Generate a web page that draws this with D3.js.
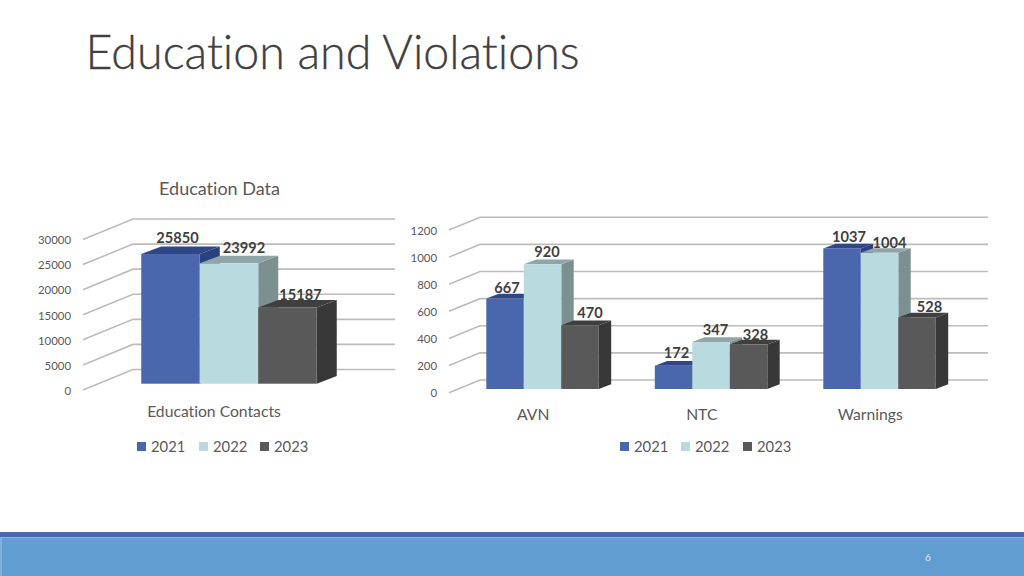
<!DOCTYPE html>
<html><head><meta charset="utf-8">
<script src="https://cdn.jsdelivr.net/npm/d3@7/dist/d3.min.js"></script>
<style>html,body{margin:0;padding:0;background:#fff;overflow:hidden}svg{display:block}text{font-family:Lato,"Open Sans",sans-serif;font-variant-ligatures:none}</style>
</head><body><svg id="c" width="1024" height="576"></svg>
<script>
const years = ["2021","2022","2023"];
const leftCategories = ["Education Contacts"];
const left2021 = [25850];
const left2022 = [23992];
const left2023 = [15187];
const leftTicks = [0,5000,10000,15000,20000,25000,30000];
const rightCategories = ["AVN","NTC","Warnings"];
const right2021 = [667,172,1037];
const right2022 = [920,347,1004];
const right2023 = [470,328,528];
const rightTicks = [0,200,400,600,800,1000,1200];

const colors = {
  front:["#4a66ac","#b9dade","#595959"],
  top:["#2f4785","#8fa5a7","#3f3f3f"],
  side:["#2a4180","#7c8f91","#383838"]
};
const svg = d3.select("#c");

function chart(o){
  const y = d3.scaleLinear().domain(o.domain).range([o.y0,o.y1]);
  const cat = d3.scaleBand().domain(o.cats).range([o.x0,o.x1]);
  const g = svg.append("g");
  // walls
  o.ticks.forEach(t=>{
    const yy=y(t);
    g.append("path").attr("d",`M${o.x0},${yy}L${o.x0+o.dx},${yy+o.dy}L${o.xr},${yy+o.dy}`)
      .attr("fill","none").attr("stroke","#bcbcbc").attr("stroke-width",1.6);
    g.append("text").attr("x",o.tickX).attr("y",yy+0.8).attr("dy","0.35em").attr("text-anchor","end")
      .attr("font-size",11.4).attr("fill","#595959").text(t);
  });
  const bars=[];
  o.cats.forEach((c,i)=>o.series.forEach((s,k)=>{
    const xs=cat(c)+cat.bandwidth()/2+o.dx*0.3+(k-1.5)*o.barW;
    bars.push({v:s[i],k,x:xs,i});
  }));
  // value labels sit behind the bars
  bars.forEach((b,n)=>{
    const nudge=o.nudges[n];
    g.append("text").attr("x",b.x+o.barW/2+nudge[0]).attr("y",y(b.v)+o.baseDy+nudge[1]).attr("dy","0.35em")
      .attr("text-anchor","middle").attr("font-size",14.6).attr("font-weight",700).attr("fill","#404040").text(b.v);
  });
  const ddx=o.dx*0.4, ddy=o.dy*0.37;
  bars.forEach(b=>{
    const t=y(b.v)+o.baseDy, base=y(0)+o.baseDy, l=b.x, r=b.x+o.barW;
    g.append("path").attr("fill",colors.side[b.k]).attr("d",`M${r},${t}L${r+ddx},${t+ddy}L${r+ddx},${base+ddy}L${r},${base}Z`);
    g.append("path").attr("fill",colors.top[b.k]).attr("d",`M${l},${t}L${l+ddx},${t+ddy}L${r+ddx},${t+ddy}L${r},${t}Z`);
    g.append("rect").attr("x",l).attr("y",t).attr("width",o.barW).attr("height",base-t).attr("fill",colors.front[b.k]);
  });
  o.cats.forEach(c=>{
    g.append("text").attr("x",cat(c)+cat.bandwidth()/2).attr("y",o.catY).attr("dy","0.35em").attr("text-anchor","middle")
      .attr("font-size",15.7).attr("fill","#595959").text(c);
  });
  years.forEach((yr,k)=>{
    const x=o.legendX[k];
    g.append("rect").attr("x",x).attr("y",442).attr("width",9).attr("height",9).attr("fill",colors.front[k]);
    g.append("text").attr("x",x+14).attr("y",447).attr("dy","0.35em").attr("font-size",14.8).attr("fill","#595959").text(yr);
  });
}

svg.append("text").attr("x",85.5).attr("y",69).attr("font-size",46.6).attr("font-weight",300).attr("fill","#404040").attr("stroke","#404040").attr("stroke-width",0.3).text("Education and Violations");
svg.append("text").attr("x",219.5).attr("y",188.5).attr("dy","0.35em").attr("text-anchor","middle").attr("font-size",18).attr("fill","#595959").text("Education Data");

chart({cats:leftCategories,series:[left2021,left2022,left2023],ticks:leftTicks,domain:[0,30000],
  y0:390,y1:239.5,x0:83,x1:345,dx:50,dy:-20.5,xr:395,tickX:71,barW:58.5,baseDy:-6.3,catY:411.5,
  legendX:[137,199,260],
  nudges:[[7,-16],[15,-15],[13,-13]]});
chart({cats:rightCategories,series:[right2021,right2022,right2023],ticks:rightTicks,domain:[0,1200],
  y0:392.7,y1:230,x0:449,x1:954.5,dx:31,dy:-12.7,xr:988,tickX:437,barW:37.5,baseDy:-3.7,catY:414.5,
  legendX:[620,681,743],
  nudges:[[2,-10.5],[4.5,-12],[10,-12],[3,-13],[4.5,-12.5],[7,-10],[7,-12],[10,-10],[12.5,-11]]});

// footer
svg.append("rect").attr("x",0).attr("y",532).attr("width",1024).attr("height",5).attr("fill","#4a66ac");
svg.append("rect").attr("x",0).attr("y",537).attr("width",1024).attr("height",39).attr("fill","#629dd1");
svg.append("rect").attr("x",0).attr("y",537).attr("width",1024).attr("height",1).attr("fill","#8fb6e0");
svg.append("rect").attr("x",0).attr("y",537).attr("width",2).attr("height",39).attr("fill","#7fb2e0");
svg.append("text").attr("x",928).attr("y",557).attr("dy","0.35em").attr("text-anchor","middle").attr("font-size",10).attr("fill","#dfeaf5").text("6");
</script></body></html>
